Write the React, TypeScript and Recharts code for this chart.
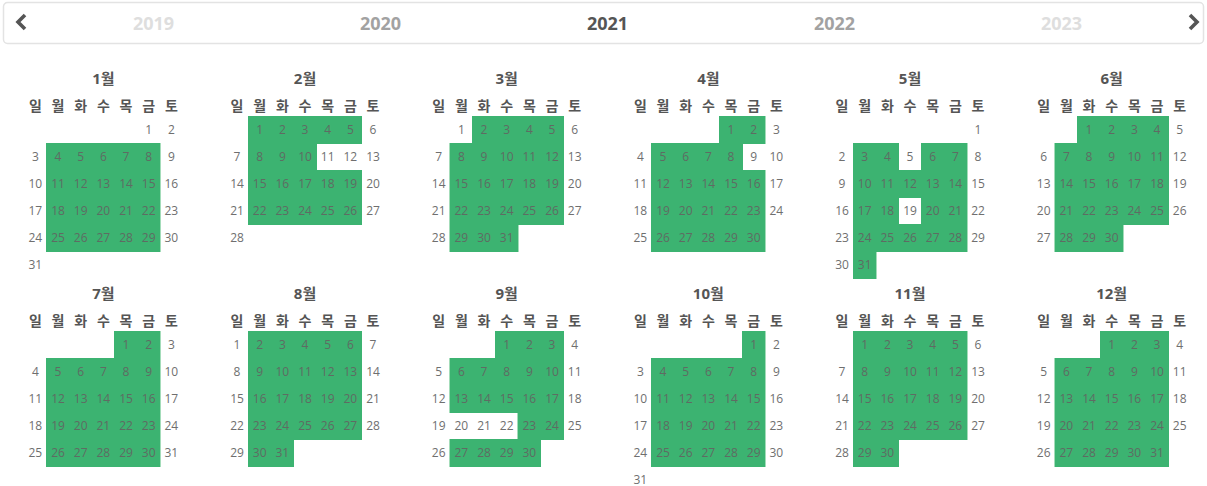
import React from 'react';
import { ScatterChart, Scatter, XAxis, YAxis, ReferenceArea } from 'recharts';

// ---------- data ----------
const YEAR = 2021;
const years = [2019, 2020, 2021, 2022, 2023];
const monthLabels = ['1월', '2월', '3월', '4월', '5월', '6월', '7월', '8월', '9월', '10월', '11월', '12월'];
const weekdayLabels = ['일', '월', '화', '수', '목', '금', '토'];

// shaded (green) days of each month
const shadedJan = [4, 5, 6, 7, 8, 11, 12, 13, 14, 15, 18, 19, 20, 21, 22, 25, 26, 27, 28, 29];
const shadedFeb = [1, 2, 3, 4, 5, 8, 9, 10, 15, 16, 17, 18, 19, 22, 23, 24, 25, 26];
const shadedMar = [2, 3, 4, 5, 8, 9, 10, 11, 12, 15, 16, 17, 18, 19, 22, 23, 24, 25, 26, 29, 30, 31];
const shadedApr = [1, 2, 5, 6, 7, 8, 12, 13, 14, 15, 16, 19, 20, 21, 22, 23, 26, 27, 28, 29, 30];
const shadedMay = [3, 4, 6, 7, 10, 11, 12, 13, 14, 17, 18, 20, 21, 24, 25, 26, 27, 28, 31];
const shadedJun = [1, 2, 3, 4, 7, 8, 9, 10, 11, 14, 15, 16, 17, 18, 21, 22, 23, 24, 25, 28, 29, 30];
const shadedJul = [1, 2, 5, 6, 7, 8, 9, 12, 13, 14, 15, 16, 19, 20, 21, 22, 23, 26, 27, 28, 29, 30];
const shadedAug = [2, 3, 4, 5, 6, 9, 10, 11, 12, 13, 16, 17, 18, 19, 20, 23, 24, 25, 26, 27, 30, 31];
const shadedSep = [1, 2, 3, 6, 7, 8, 9, 10, 13, 14, 15, 16, 17, 23, 24, 27, 28, 29, 30];
const shadedOct = [1, 4, 5, 6, 7, 8, 11, 12, 13, 14, 15, 18, 19, 20, 21, 22, 25, 26, 27, 28, 29];
const shadedNov = [1, 2, 3, 4, 5, 8, 9, 10, 11, 12, 15, 16, 17, 18, 19, 22, 23, 24, 25, 26, 29, 30];
const shadedDec = [1, 2, 3, 6, 7, 8, 9, 10, 13, 14, 15, 16, 17, 20, 21, 22, 23, 24, 27, 28, 29, 30, 31];
const shadedDays = [shadedJan, shadedFeb, shadedMar, shadedApr, shadedMay, shadedJun, shadedJul, shadedAug, shadedSep, shadedOct, shadedNov, shadedDec];

// ---------- layout ----------
const W = 1207;
const H = 486;
const CELL_W = 22.67;
const CELL_H = 27;
const GRID_LEFT = 24;
const MONTH_PITCH_X = 201.67;
const GRID_TOP = 116.4;
const BLOCK_PITCH_Y = 215;
const TITLE_OFFSET = -51.8;
const HEADER_OFFSET = -24.8;
const NAV_CENTER_X = 607.5;
const NAV_PITCH = 227;
const NAV_Y = 23;
const FONT = "'Open Sans', 'Noto Sans CJK KR', sans-serif";
const GREEN = '#3cb371';
const GREEN_EDGE = '#a3dcb9';

const monthOrigin = (m: number) => ({
  x: GRID_LEFT + (m % 6) * MONTH_PITCH_X,
  y: GRID_TOP + Math.floor(m / 6) * BLOCK_PITCH_Y,
});

type DayPt = { x: number; y: number; day: number; shaded: boolean };
const dayPoints: DayPt[] = [];
const headerPoints: { x: number; y: number; label: string }[] = [];
const titlePoints: { x: number; y: number; label: string }[] = [];

monthLabels.forEach((label, m) => {
  const o = monthOrigin(m);
  const first = new Date(YEAR, m, 1).getDay();
  const n = new Date(YEAR, m + 1, 0).getDate();
  for (let d = 1; d <= n; d++) {
    const idx = first + d - 1;
    const col = idx % 7;
    const row = Math.floor(idx / 7);
    dayPoints.push({
      x: o.x + (col + 0.5) * CELL_W,
      y: o.y + (row + 0.5) * CELL_H,
      day: d,
      shaded: shadedDays[m].includes(d),
    });
  }
  weekdayLabels.forEach((w, c) => {
    headerPoints.push({ x: o.x + (c + 0.5) * CELL_W, y: o.y + 0.5 * CELL_H + HEADER_OFFSET, label: w });
  });
  titlePoints.push({ x: o.x + 3.5 * CELL_W, y: o.y + 0.5 * CELL_H + TITLE_OFFSET, label });
});

const shadedPoints = dayPoints.filter((p) => p.shaded);

const yearPoints = years.map((yr, i) => ({
  x: NAV_CENTER_X + (i - years.indexOf(YEAR)) * NAV_PITCH,
  y: NAV_Y,
  label: String(yr),
  dist: Math.abs(yr - YEAR),
}));

const chevronPoints = [
  { x: 21, y: 22, dir: -1 },
  { x: 1194, y: 22, dir: 1 },
];

const yearColor = (dist: number) => (dist === 0 ? '#555555' : dist === 1 ? '#a2a2a2' : '#dedede');

// ---------- shapes ----------
const EdgeCell = (p: any) => {
  const e = 0.8;
  return (
    <rect
      x={p.cx - CELL_W / 2 - e}
      y={p.cy - CELL_H / 2 - e}
      width={CELL_W + 2 * e}
      height={CELL_H + 2 * e}
      fill={GREEN_EDGE}
      shapeRendering="crispEdges"
    />
  );
};

const GreenCell = (p: any) => (
  <rect
    x={p.cx - CELL_W / 2 - 0.2}
    y={p.cy - CELL_H / 2 - 0.2}
    width={CELL_W + 0.4}
    height={CELL_H + 0.4}
    fill={GREEN}
    shapeRendering="crispEdges"
  />
);

const DayText = (p: any) => (
  <text
    x={p.cx}
    y={p.cy}
    textAnchor="middle"
    dominantBaseline="central"
    fontFamily={FONT}
    fontSize={12}
    fill={p.payload.shaded ? '#5f6b63' : '#6f6f6f'}
  >
    {p.payload.day}
  </text>
);

const HeaderText = (p: any) => (
  <text
    x={p.cx}
    y={p.cy}
    textAnchor="middle"
    dominantBaseline="central"
    fontFamily={FONT}
    fontSize={14}
    fontWeight={700}
    fill="#555"
  >
    {p.payload.label}
  </text>
);

const TitleText = (p: any) => (
  <text
    x={p.cx}
    y={p.cy}
    textAnchor="middle"
    dominantBaseline="central"
    fontFamily={FONT}
    fontSize={15}
    fontWeight={700}
    fill="#555"
  >
    {p.payload.label}
  </text>
);

const YearText = (p: any) => (
  <text
    x={p.cx}
    y={p.cy}
    textAnchor="middle"
    dominantBaseline="central"
    fontFamily={FONT}
    fontSize={18}
    fontWeight={700}
    fill={yearColor(p.payload.dist)}
  >
    {p.payload.label}
  </text>
);

const Chevron = (p: any) => {
  const s = p.payload.dir;
  const d = `M ${p.cx - 4 * s} ${p.cy - 7} L ${p.cx + 3 * s} ${p.cy} L ${p.cx - 4 * s} ${p.cy + 7}`;
  return <path d={d} fill="none" stroke="#555" strokeWidth={3.6} strokeLinejoin="miter" />;
};

export default function App() {
  return (
    <div style={{ position: 'absolute', left: 0, top: 0, width: W, height: H, background: '#fff' }}>
      <ScatterChart width={W} height={H} margin={{ top: 0, right: 0, bottom: 0, left: 0 }}>
        <XAxis type="number" dataKey="x" domain={[0, W]} hide allowDataOverflow height={0} />
        <YAxis type="number" dataKey="y" domain={[0, H]} reversed hide allowDataOverflow width={0} />
        <ReferenceArea
          x1={3.5}
          x2={1203.5}
          y1={2.5}
          y2={43.5}
          fill="#ffffff"
          fillOpacity={1}
          stroke="#e3e3e3"
          strokeWidth={1.5}
          radius={4}
          ifOverflow="visible"
        />
        <Scatter data={chevronPoints} shape={Chevron} isAnimationActive={false} />
        <Scatter data={yearPoints} shape={YearText} isAnimationActive={false} />
        <Scatter data={titlePoints} shape={TitleText} isAnimationActive={false} />
        <Scatter data={headerPoints} shape={HeaderText} isAnimationActive={false} />
        <Scatter data={shadedPoints} shape={EdgeCell} isAnimationActive={false} />
        <Scatter data={shadedPoints} shape={GreenCell} isAnimationActive={false} />
        <Scatter data={dayPoints} shape={DayText} isAnimationActive={false} />
      </ScatterChart>
    </div>
  );
}
